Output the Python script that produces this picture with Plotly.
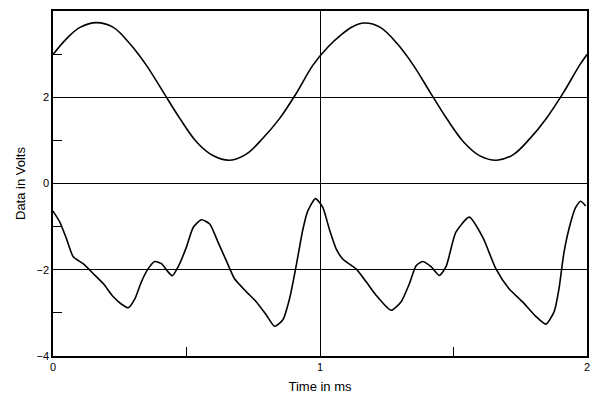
import plotly.graph_objects as go

# upper trace (sine)
t_top = [0.0, 0.051, 0.101, 0.163, 0.226, 0.288, 0.350, 0.412, 0.475, 0.537, 0.599, 0.662,
         0.724, 0.786, 0.849, 0.911, 0.973, 1.029, 1.08, 1.12, 1.165, 1.226, 1.288, 1.350,
         1.412, 1.475, 1.537, 1.599, 1.662, 1.724, 1.786, 1.849, 1.911, 1.973, 2.0]
v_top = [2.99, 3.36, 3.62, 3.73, 3.62, 3.24, 2.74, 2.13, 1.51, 0.97, 0.65, 0.54,
         0.68, 1.05, 1.51, 2.09, 2.74, 3.16, 3.45, 3.63, 3.72, 3.62, 3.25, 2.74,
         2.12, 1.50, 0.97, 0.64, 0.54, 0.67, 1.04, 1.52, 2.10, 2.75, 2.99]

# lower trace (distorted)
t_bot = [0.0, 0.026, 0.051, 0.076, 0.113, 0.151, 0.188, 0.225, 0.257, 0.282, 0.307, 0.331,
         0.356, 0.381, 0.406, 0.431, 0.447, 0.469, 0.500, 0.525, 0.556, 0.587, 0.618, 0.649,
         0.680, 0.724, 0.761, 0.799, 0.830, 0.861, 0.886, 0.911, 0.936, 0.954, 0.983, 1.010,
         1.036, 1.061, 1.085, 1.135, 1.173, 1.210, 1.266, 1.304, 1.335, 1.360, 1.384, 1.416,
         1.447, 1.472, 1.509, 1.559, 1.609, 1.659, 1.708, 1.758, 1.808, 1.846, 1.877, 1.895,
         1.914, 1.939, 1.958, 1.976, 1.995]
v_bot = [-0.64, -0.90, -1.29, -1.70, -1.86, -2.09, -2.32, -2.62, -2.80, -2.88, -2.67, -2.28,
         -1.98, -1.81, -1.86, -2.05, -2.14, -1.93, -1.47, -1.02, -0.84, -0.94, -1.36, -1.79,
         -2.21, -2.51, -2.74, -3.05, -3.31, -3.16, -2.67, -1.90, -1.06, -0.64, -0.35, -0.55,
         -1.08, -1.52, -1.75, -1.98, -2.28, -2.59, -2.94, -2.74, -2.32, -1.91, -1.81, -1.93,
         -2.13, -1.93, -1.13, -0.78, -1.24, -1.98, -2.44, -2.74, -3.08, -3.26, -2.97, -2.44,
         -1.59, -0.90, -0.55, -0.41, -0.52]

fig = go.Figure([
    go.Scatter(x=t_top, y=v_top, mode="lines", line=dict(color="black", width=1.6, shape="spline")),
    go.Scatter(x=t_bot, y=v_bot, mode="lines", line=dict(color="black", width=1.6, shape="spline", smoothing=0.6)),
])
# page body has an 8px margin, so the figure is a bit smaller than the window
fig.update_layout(
    width=584, height=390, showlegend=False,
    paper_bgcolor="white", plot_bgcolor="white",
    margin=dict(l=45, r=5, t=3, b=42, autoexpand=False),
    font=dict(family="Liberation Sans, Arial", size=11, color="black"),
    xaxis=dict(title=dict(text="Time in ms", standoff=10), range=[0, 2], dtick=1,
               showgrid=True, gridcolor="black", gridwidth=1, zeroline=False,
               showline=True, linecolor="black", linewidth=1.5, mirror=True, automargin=False,
               ticks="", minor=dict(dtick=0.5, ticks="inside", ticklen=9, tickcolor="black", showgrid=False)),
    yaxis=dict(title=dict(text="Data in Volts", standoff=8), range=[-4, 4], dtick=2,
               showgrid=True, gridcolor="black", gridwidth=1, zeroline=False,
               showline=True, linecolor="black", linewidth=1.5, mirror=True, automargin=False,
               ticks="", minor=dict(dtick=1, ticks="inside", ticklen=9, tickcolor="black", showgrid=False)),
)
fig.write_html("out.html")
